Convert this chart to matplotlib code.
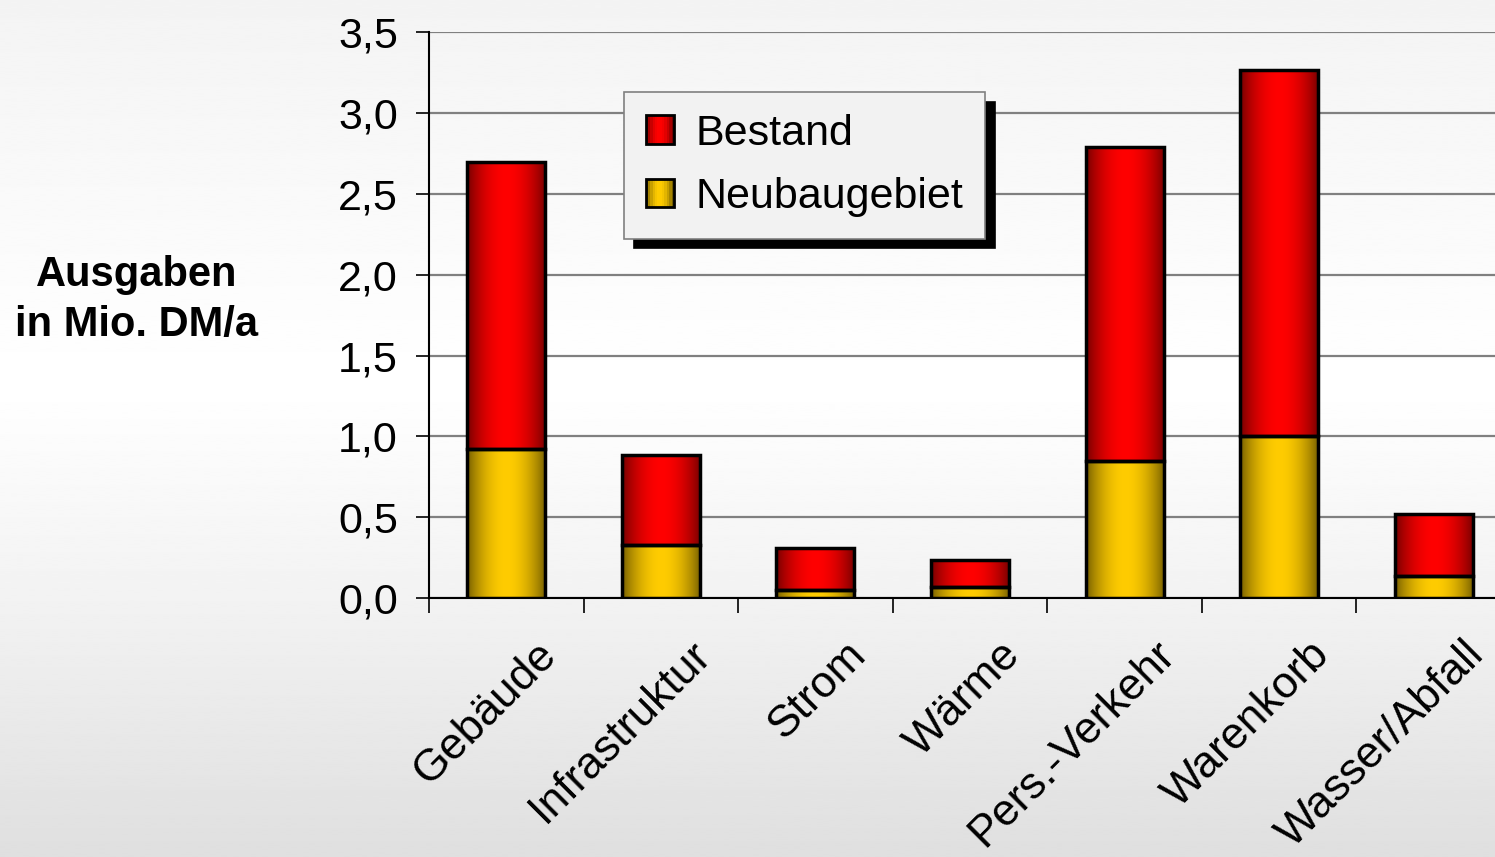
import numpy as np
import matplotlib
matplotlib.use("Agg")
import matplotlib.pyplot as plt
from matplotlib.legend_handler import HandlerBase
from matplotlib.patches import Rectangle
from matplotlib.transforms import ScaledTranslation

plt.rcParams['font.family'] = ['Liberation Sans', 'DejaVu Sans']

# data ------------------------------
categories = ["Gebäude", "Infrastruktur", "Strom", "Wärme",
              "Pers.-Verkehr", "Warenkorb", "Wasser/Abfall"]
neubau = [0.92, 0.33, 0.05, 0.07, 0.85, 1.00, 0.14]
bestand = [1.78, 0.555, 0.26, 0.165, 1.94, 2.265, 0.38]
y_ticks = [0.0, 0.5, 1.0, 1.5, 2.0, 2.5, 3.0, 3.5]
y_ticklabels = ["0,0", "0,5", "1,0", "1,5", "2,0", "2,5", "3,0", "3,5"]

red = np.array([1.0, 0.0, 0.0])
gold = np.array([1.0, 0.8, 0.0])

# gradient helpers ------------------------------
def bar_gradient(base, n=64):
    # dark edges, bright middle (horizontal shading)
    t = np.linspace(0, 1, n)
    f = 0.45 + 0.55 * np.sin(np.pi * t) ** 0.8
    return (f[:, None] * base[None, :])[None, :, :]

class GradientHandler(HandlerBase):
    def __init__(self, base):
        super().__init__()
        self.base = base

    def create_artists(self, legend, orig_handle, xdescent, ydescent,
                       width, height, fontsize, trans):
        s = min(width, height)
        x0, y0 = -xdescent, -ydescent + (height - s) / 2
        grad = bar_gradient(self.base, 12)[0]
        artists = []
        n = len(grad)
        for i, c in enumerate(grad):
            artists.append(Rectangle((x0 + i * s / n, y0), s / n, s,
                                     facecolor=c, edgecolor='none', transform=trans))
        artists.append(Rectangle((x0, y0), s, s, facecolor='none',
                                 edgecolor='black', linewidth=2, transform=trans))
        return artists

# figure ------------------------------
fig = plt.figure(figsize=(14.95, 8.57), dpi=100)

# background gradient
bg = fig.add_axes([0, 0, 1, 1], zorder=-10)
yy = np.linspace(0, 1, 400)
shade = np.interp(yy, [0.0, 0.45, 0.7, 1.0], [0.955, 1.0, 0.95, 0.875])
bg.imshow(shade[:, None], aspect='auto', cmap='gray', vmin=0, vmax=1,
          extent=[0, 1, 0, 1], interpolation='bilinear')
bg.axis('off')

ax = fig.add_axes([0.287, 0.302, 0.7237, 0.6604])
ax.set_facecolor('none')

x = np.arange(len(categories))
width = 0.505
bars_n = ax.bar(x, neubau, width, facecolor='none', edgecolor='black',
                linewidth=2.5, zorder=4, label="Neubaugebiet")
bars_b = ax.bar(x, bestand, width, bottom=neubau, facecolor='none',
                edgecolor='black', linewidth=2.5, zorder=4, label="Bestand")

for bars, base in [(bars_n, gold), (bars_b, red)]:
    for p in bars.patches:
        x0, y0 = p.get_x(), p.get_y()
        ax.imshow(bar_gradient(base), extent=(x0, x0 + p.get_width(), y0, y0 + p.get_height()),
                  aspect='auto', zorder=3, interpolation='bilinear')

ax.set_xlim(-0.5, len(categories) - 0.5)
ax.set_ylim(0, 3.5)

# axes styling
ax.set_axisbelow(True)
ax.yaxis.grid(True, color='#808080', linewidth=1.6)
for s in ['top', 'right']:
    ax.spines[s].set_visible(False)
ax.spines['left'].set_linewidth(1.5)
ax.spines['bottom'].set_linewidth(1.5)

ax.set_yticks(y_ticks)
ax.set_yticklabels(y_ticklabels, fontsize=31)
ax.tick_params(axis='y', length=9.5, width=1.2, pad=13)

ax.set_xticks(x)
ax.set_xticks(np.arange(len(categories) + 1) - 0.5, minor=True)
ax.tick_params(axis='x', which='major', length=0, pad=36)
ax.tick_params(axis='x', which='minor', length=11, width=1.2)
ax.set_xticklabels(categories, fontsize=32, rotation=45, ha='right',
                   va='center', rotation_mode='anchor')
offset = ScaledTranslation(0.44, 0, fig.dpi_scale_trans)
for lab in ax.get_xticklabels():
    lab.set_transform(lab.get_transform() + offset)

fig.text(137 / 1495, 1 - 300 / 857, "Ausgaben\nin Mio. DM/a", fontsize=30,
         fontweight='bold', ha='center', va='center', multialignment='center',
         linespacing=1.35)

# legend with black drop shadow
leg = fig.legend([bars_b, bars_n], ["Bestand", "Neubaugebiet"],
                 handler_map={bars_b: GradientHandler(red), bars_n: GradientHandler(gold)},
                 loc='upper left', bbox_to_anchor=(624 / 1495, 1 - 92 / 857),
                 borderaxespad=0, fontsize=31, handlelength=0.66, handleheight=0.66,
                 handletextpad=0.5, labelspacing=0.55, borderpad=0.5,
                 fancybox=False, framealpha=1, facecolor='#f2f2f2', edgecolor='#808080',
                 shadow={'color': 'black', 'alpha': 1, 'ox': 7, 'oy': -7})
leg.get_frame().set_linewidth(1.2)

fig.savefig("out.png", dpi=100)
